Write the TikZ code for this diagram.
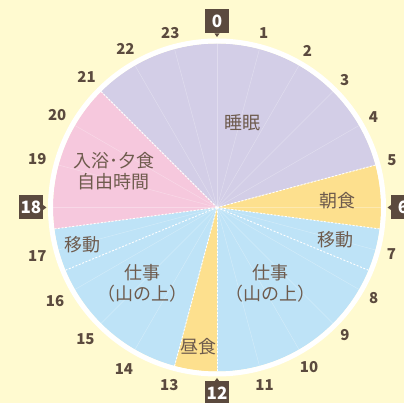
\documentclass[tikz,border=0pt]{standalone}
\usepackage{fontspec}
\setmainfont{Noto Sans CJK JP}
\usepackage{xcolor}
\usepackage{tikz}
\definecolor{bgyellow}{HTML}{FFFAD0}
\definecolor{sleepc}{HTML}{D3CEE7}
\definecolor{freec}{HTML}{F6C8DD}
\definecolor{mealc}{HTML}{FDE08E}
\definecolor{workc}{HTML}{BEE3F7}
\definecolor{numbrown}{HTML}{5B4A3E}
\definecolor{textbrown}{HTML}{6E5B4D}
\tikzstyle{divider} = [white, dash pattern=on 2pt off 1.6pt, line width=0.9pt]

\begin{document}
\begin{tikzpicture}[x=1pt, y=1pt,
    slot/.style={font=\fontsize{18}{21}\selectfont, text=textbrown, align=center, inner sep=0pt},
    hournum/.style={font=\fontsize{15}{15}\selectfont\bfseries, text=numbrown, inner sep=0pt},
    hourbox/.style={fill=numbrown, text=white, minimum width=24pt, minimum height=24pt, inner sep=0pt, font=\fontsize{17}{17}\selectfont\bfseries},
    hourline/.style={white, opacity=0.3, line width=0.5pt}]

    % page
    \useasboundingbox (-217,-195.5) rectangle (187,207.5);
    \fill[bgyellow] (-217,-195.5) rectangle (187,207.5);
    \clip (-217,-195.5) rectangle (187,207.5);

    % day slices
    \fill[sleepc] (0,0) -- (15:164pt) arc[start angle=15, end angle=135, radius=164pt] -- cycle;
    \fill[mealc] (0,0) -- (15:164pt) arc[start angle=15, end angle=-7.5, radius=164pt] -- cycle;
    \fill[workc] (0,0) -- (-7.5:164pt) arc[start angle=-7.5, end angle=-90, radius=164pt] -- cycle;
    \fill[mealc] (0,0) -- (-90:164pt) arc[start angle=-90, end angle=-105, radius=164pt] -- cycle;
    \fill[workc] (0,0) -- (-105:164pt) arc[start angle=-105, end angle=-172.5, radius=164pt] -- cycle;
    \fill[freec] (0,0) -- (-172.5:164pt) arc[start angle=-172.5, end angle=-225, radius=164pt] -- cycle;

    % hour lines and dividers
    \foreach \h in {0,...,23}
        \draw[hourline] (0,0) -- ({90-15*\h}:164pt);
    \foreach \h in {21,5,6.5,7.5,12,13,16.5,17.5}
        \draw[divider] (0,0) -- ({90-15*\h}:164pt);
    \draw[white, line width=5pt] (0,0) circle[radius=166.5pt];

    % hour numbers
    \foreach \h/\r in {1/180.5, 2/181, 3/180.5, 4/180.5, 5/181, 7/180.5, 8/181, 9/181,
        10/184, 11/184, 13/184, 14/186, 15/186, 16/187, 17/186, 19/186, 20/184.5,
        21/184.5, 22/183, 23/180.5}
        \node[hournum] (n\h) at ({90-15*\h}:\r pt) {\h};
    \foreach \h/\a in {0/90, 6/0, 12/-90, 18/180} {
        \node[hourbox] (box\h) at (\a:186pt) {\h};
        \fill[numbrown, shift={(\a:186pt)}, rotate=\a] (-12,-2.5) -- (-12,2.5) -- (-15.5,0) -- cycle;
    }

    % activities
    \node[slot] (sleep) at (25,84.5) {睡眠};
    \node[slot] (free) at (-103,36.5) {入浴･夕食\\自由時間};
    \node[slot] (breakfast) at (120.7,6.5) {朝食};
    \node[slot] (commute1) at (118.7,-32.5) {移動};
    \node[slot] (commute2) at (-134.3,-37.5) {移動};
    \node[slot] (work1) at (53.7,-76.3) {仕事\\（山の上）};
    \node[slot] (work2) at (-74,-76.3) {仕事\\（山の上）};
    \node[slot] (lunch) at (-18,-139.2) {昼食};
\end{tikzpicture}
\end{document}
